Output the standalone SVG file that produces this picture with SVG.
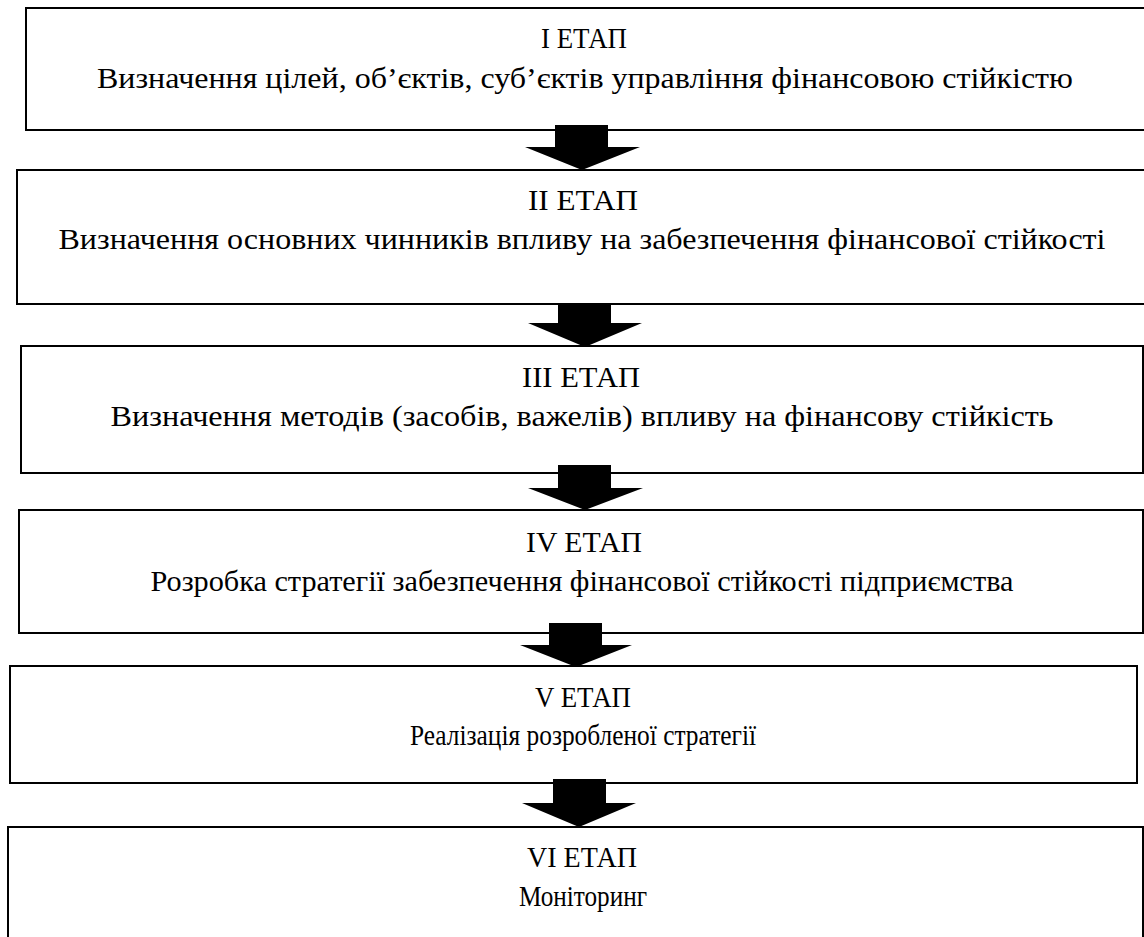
<svg xmlns="http://www.w3.org/2000/svg" width="1144" height="937" viewBox="0 0 1144 937">
<style>
.box{fill:#fff;stroke:#000;stroke-width:2}
.t{font-size:30px;fill:#000;text-anchor:middle}
.arr{fill:#000;stroke:none}
</style>
<rect width="1144" height="937" fill="#fff"/>
<g font-family="Liberation Serif, DejaVu Serif, Times New Roman, serif">
<g id="stage1"><rect class="box" x="26" y="8" width="1130" height="122"/>
<text class="t" x="584" y="48" textLength="86" lengthAdjust="spacingAndGlyphs">I ЕТАП</text>
<text class="t" x="585" y="88" textLength="976" lengthAdjust="spacingAndGlyphs">Визначення цілей, об’єктів, суб’єктів управління фінансовою стійкістю</text></g>
<g id="stage2"><rect class="box" x="17" y="170" width="1140" height="134"/>
<text class="t" x="583" y="210" textLength="110" lengthAdjust="spacingAndGlyphs">II ЕТАП</text>
<text class="t" x="582" y="249" textLength="1047" lengthAdjust="spacingAndGlyphs">Визначення основних чинників впливу на забезпечення фінансової стійкості</text></g>
<g id="stage3"><rect class="box" x="21" y="346" width="1122" height="127"/>
<text class="t" x="581" y="387" textLength="118" lengthAdjust="spacingAndGlyphs">III ЕТАП</text>
<text class="t" x="582" y="426" textLength="943" lengthAdjust="spacingAndGlyphs">Визначення методів (засобів, важелів) впливу на фінансову стійкість</text></g>
<g id="stage4"><rect class="box" x="19" y="510" width="1124" height="123"/>
<text class="t" x="584" y="552" textLength="116" lengthAdjust="spacingAndGlyphs">IV ЕТАП</text>
<text class="t" x="582" y="591" textLength="863" lengthAdjust="spacingAndGlyphs">Розробка стратегії забезпечення фінансової стійкості підприємства</text></g>
<g id="stage5"><rect class="box" x="10" y="666" width="1127" height="117"/>
<text class="t" x="583" y="707" textLength="96" lengthAdjust="spacingAndGlyphs">V ЕТАП</text>
<text class="t" x="583" y="745" textLength="346" lengthAdjust="spacingAndGlyphs">Реалізація розробленої стратегії</text></g>
<g id="stage6"><rect class="box" x="8" y="827" width="1135" height="120"/>
<text class="t" x="582" y="867" textLength="110" lengthAdjust="spacingAndGlyphs">VI ЕТАП</text>
<text class="t" x="583" y="906" textLength="128" lengthAdjust="spacingAndGlyphs">Моніторинг</text></g>
</g>
<g id="connectors">
<polygon class="arr" points="555,125 608,125 608,147 640,147 582,170 525,147 555,147"/>
<polygon class="arr" points="558,303 611,303 611,323 642,323 585,347 528,323 558,323"/>
<polygon class="arr" points="558,465 611,465 611,488 643,488 585,510 528,488 558,488"/>
<polygon class="arr" points="549,623 602,623 602,645 632,645 576,667 520,645 549,645"/>
<polygon class="arr" points="553,779 606,779 606,803 636,803 579,827 522,803 553,803"/>
</g>
</svg>
